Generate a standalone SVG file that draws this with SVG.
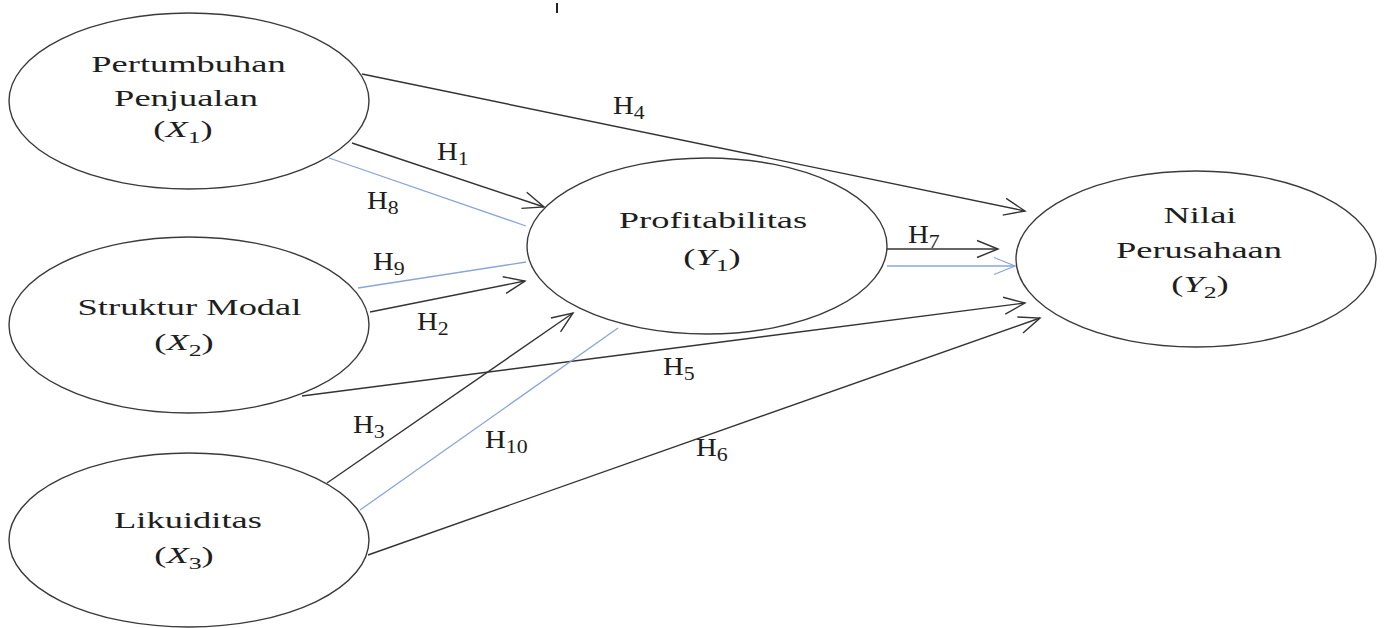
<svg xmlns="http://www.w3.org/2000/svg" width="1385" height="628" viewBox="0 0 1385 628">
<defs>
<style>
.node ellipse{fill:#fff;stroke:#3a3a3a;stroke-width:1.4}
.nt{font-family:"Liberation Serif","Times New Roman",serif;font-size:24px;fill:#1e1e1e;text-anchor:middle}
.it{font-style:italic}
.sub{font-size:17px}
.lb{font-family:"Liberation Serif","Times New Roman",serif;font-size:25px;fill:#1e1e1e}
.lbs{font-size:19px}
.k{stroke:#333;stroke-width:1.4;fill:none}
.b{stroke:#8aa6d8;stroke-width:1.3;fill:none}
</style>
<marker id="arr" markerUnits="userSpaceOnUse" markerWidth="26" markerHeight="22" viewBox="-2 -2 26 22" refX="21" refY="8.5" orient="auto" overflow="visible">
<path d="M0,0 L21,8.5 L0,17" fill="none" stroke="#333" stroke-width="1.4"/>
</marker>
<marker id="arrb" markerUnits="userSpaceOnUse" markerWidth="26" markerHeight="22" viewBox="-2 -2 26 22" refX="21" refY="8.5" orient="auto" overflow="visible">
<path d="M0,0 L21,8.5 L0,17" fill="none" stroke="#8aa6d8" stroke-width="1.3"/>
</marker>
</defs>
<rect width="1385" height="628" fill="#fff"/>
<line x1="557" y1="3" x2="557" y2="13" stroke="#222" stroke-width="2"/>

<g id="connectors">
<line class="k" x1="352" y1="143" x2="544" y2="207" marker-end="url(#arr)"/>
<line class="k" x1="370" y1="312" x2="525" y2="281" marker-end="url(#arr)"/>
<line class="k" x1="327" y1="483" x2="573" y2="313" marker-end="url(#arr)"/>
<line class="k" x1="362" y1="74" x2="1025" y2="211" marker-end="url(#arr)"/>
<line class="k" x1="302" y1="396" x2="1025" y2="303" marker-end="url(#arr)"/>
<line class="k" x1="368" y1="555" x2="1040" y2="318" marker-end="url(#arr)"/>
<line class="k" x1="887" y1="249" x2="998" y2="249" marker-end="url(#arr)"/>
<line class="b" x1="329" y1="158" x2="526" y2="226"/>
<line class="b" x1="358" y1="288" x2="526" y2="262"/>
<line class="b" x1="360" y1="510" x2="618" y2="328"/>
<line class="b" x1="887" y1="266" x2="1015" y2="266" marker-end="url(#arrb)"/>
</g>

<g id="node-x1" class="node">
<ellipse cx="189" cy="101" rx="180" ry="88"/>
<text class="nt" transform="translate(188.5,72) scale(1.52,1)">Pertumbuhan</text>
<text class="nt" transform="translate(186,106) scale(1.52,1)">Penjualan</text>
<text class="nt" transform="translate(183,137) scale(1.52,1)">(<tspan class="it">X</tspan><tspan class="sub" dy="6">1</tspan><tspan dy="-6">)</tspan></text>
</g>
<g id="node-x2" class="node">
<ellipse cx="189" cy="325" rx="180" ry="88"/>
<text class="nt" transform="translate(189.5,315) scale(1.52,1)">Struktur Modal</text>
<text class="nt" transform="translate(184,350) scale(1.52,1)">(<tspan class="it">X</tspan><tspan class="sub" dy="6">2</tspan><tspan dy="-6">)</tspan></text>
</g>
<g id="node-x3" class="node">
<ellipse cx="189" cy="540" rx="180" ry="87"/>
<text class="nt" transform="translate(188,528) scale(1.52,1)">Likuiditas</text>
<text class="nt" transform="translate(184,563) scale(1.52,1)">(<tspan class="it">X</tspan><tspan class="sub" dy="6">3</tspan><tspan dy="-6">)</tspan></text>
</g>
<g id="node-y1" class="node">
<ellipse cx="707" cy="246" rx="180" ry="88"/>
<text class="nt" transform="translate(713,228) scale(1.52,1)">Profitabilitas</text>
<text class="nt" transform="translate(712,265) scale(1.52,1)">(<tspan class="it">Y</tspan><tspan class="sub" dy="6">1</tspan><tspan dy="-6">)</tspan></text>
</g>
<g id="node-y2" class="node">
<ellipse cx="1196" cy="259" rx="180" ry="88"/>
<text class="nt" transform="translate(1200,223) scale(1.52,1)">Nilai</text>
<text class="nt" transform="translate(1199,258) scale(1.52,1)">Perusahaan</text>
<text class="nt" transform="translate(1200,292) scale(1.52,1)">(<tspan class="it">Y</tspan><tspan class="sub" dy="6">2</tspan><tspan dy="-6">)</tspan></text>
</g>

<g id="labels">
<text class="lb" transform="translate(437,160) scale(1.15,1)">H<tspan class="lbs" dy="5">1</tspan></text>
<text class="lb" transform="translate(417,330) scale(1.15,1)">H<tspan class="lbs" dy="5">2</tspan></text>
<text class="lb" transform="translate(353,433) scale(1.15,1)">H<tspan class="lbs" dy="5">3</tspan></text>
<text class="lb" transform="translate(613,114) scale(1.15,1)">H<tspan class="lbs" dy="5">4</tspan></text>
<text class="lb" transform="translate(663,375) scale(1.15,1)">H<tspan class="lbs" dy="5">5</tspan></text>
<text class="lb" transform="translate(696,456) scale(1.15,1)">H<tspan class="lbs" dy="5">6</tspan></text>
<text class="lb" transform="translate(908,243) scale(1.15,1)">H<tspan class="lbs" dy="5">7</tspan></text>
<text class="lb" transform="translate(367,209) scale(1.15,1)">H<tspan class="lbs" dy="5">8</tspan></text>
<text class="lb" transform="translate(373,270) scale(1.15,1)">H<tspan class="lbs" dy="5">9</tspan></text>
<text class="lb" transform="translate(485,448) scale(1.15,1)">H<tspan class="lbs" dy="5">10</tspan></text>
</g>
</svg>
